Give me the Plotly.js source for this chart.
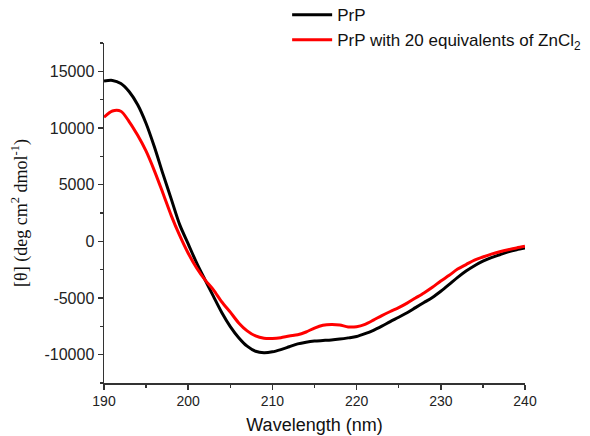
<!DOCTYPE html>
<html>
<head>
<meta charset="utf-8">
<script src="https://cdn.plot.ly/plotly-3.0.1.min.js"></script>
<style>html,body{margin:0;padding:0;background:#fff;}#chart{width:590px;height:436px;}</style>
</head>
<body>
<div id="chart"></div>
<script>
const wavelength = [190,191,192,193,194,195,196,197,198,199,200,201,202,203,204,205,206,207,208,209,210,211,212,213,214,215,216,217,218,219,220,221,222,223,224,225,226,227,228,229,230,231,232,233,234,235,236,237,238,239,240];

const prp = [14150,14200,13930,13200,12050,10400,8300,5950,3700,1450,-230,-1900,-3400,-4860,-6300,-7520,-8500,-9250,-9700,-9830,-9750,-9550,-9300,-9050,-8900,-8800,-8750,-8700,-8620,-8520,-8400,-8150,-7850,-7480,-7080,-6700,-6300,-5850,-5400,-4950,-4400,-3800,-3180,-2620,-2150,-1750,-1430,-1180,-930,-740,-590];

const prpZn = [10950,11500,11480,10550,9350,7950,6200,4250,2250,500,-1050,-2350,-3400,-4280,-5350,-6250,-7200,-7900,-8350,-8550,-8570,-8500,-8350,-8250,-8000,-7650,-7400,-7330,-7380,-7550,-7530,-7320,-6950,-6550,-6190,-5850,-5450,-5000,-4550,-4050,-3500,-3000,-2450,-2050,-1650,-1380,-1130,-920,-740,-580,-440];

const seriesNames = ['PrP', 'PrP with 20 equivalents of ZnCl<sub>2</sub>'];
const xTicks = [190,200,210,220,230,240];
const yTicks = [-10000,-5000,0,5000,10000,15000];

const traces = [
  {x: wavelength, y: prp, name: seriesNames[0], type: 'scatter', mode: 'lines',
   line: {color: '#000000', width: 3, shape: 'spline', smoothing: 0.8}},
  {x: wavelength, y: prpZn, name: seriesNames[1], type: 'scatter', mode: 'lines',
   line: {color: '#ff0000', width: 3, shape: 'spline', smoothing: 0.8}}
];

const axisCommon = {
  showline: true, linecolor: '#333333', linewidth: 1.5,
  ticks: 'outside', ticklen: 5, tickwidth: 1.5, tickcolor: '#333333',
  showgrid: false, zeroline: false, mirror: false
};

const layout = {
  width: 590, height: 436,
  margin: {l: 104, r: 65, t: 43, b: 53, autoexpand: false},
  paper_bgcolor: '#ffffff', plot_bgcolor: '#ffffff',
  showlegend: true,
  legend: {x: 0.435, xanchor: 'left', y: 1.135, yanchor: 'top',
    font: {family: 'Liberation Sans, Arial, sans-serif', size: 17, color: '#111111'},
    bgcolor: 'rgba(0,0,0,0)', itemwidth: 40, tracegroupgap: 0},
  xaxis: Object.assign({}, axisCommon, {
    range: [190, 240], tickvals: xTicks, ticktext: xTicks.map(String),
    tickfont: {family: 'Liberation Sans, Arial, sans-serif', size: 14, color: '#222222'},
    minor: {dtick: 5, tick0: 190, ticks: 'outside', ticklen: 3, tickwidth: 1.5, tickcolor: '#333333'},
    title: {text: 'Wavelength (nm)', standoff: 10,
      font: {family: 'Liberation Sans, Arial, sans-serif', size: 18, color: '#111111'}}
  }),
  yaxis: Object.assign({}, axisCommon, {
    range: [-12500, 17500], tickvals: yTicks, ticktext: yTicks.map(String),
    tickfont: {family: 'Liberation Sans, Arial, sans-serif', size: 16, color: '#222222'},
    minor: {dtick: 2500, tick0: 0, ticks: 'outside', ticklen: 3, tickwidth: 1.5, tickcolor: '#333333'},
    title: {text: '[θ] (deg cm<sup>2</sup> dmol<sup>-1</sup>)', standoff: 12,
      font: {family: 'Liberation Serif, Times New Roman, serif', size: 18, color: '#111111'}}
  })
};

Plotly.newPlot('chart', traces, layout, {displayModeBar: false, staticPlot: true});
</script>
</body>
</html>
